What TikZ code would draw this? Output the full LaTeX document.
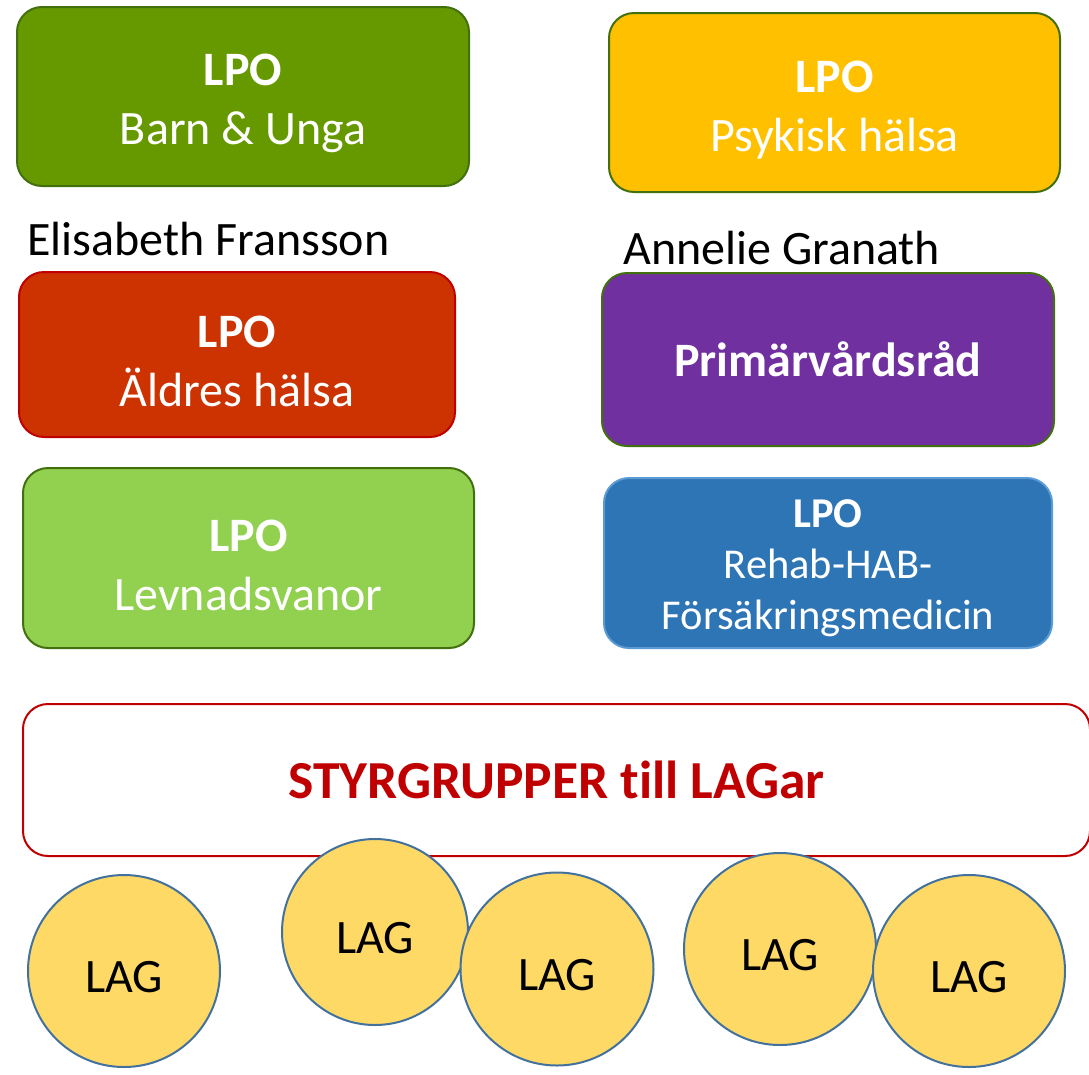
\documentclass[tikz,border=0pt]{standalone}
\usepackage{fontspec}
\setmainfont[Ligatures=NoCommon]{Carlito}

\definecolor{barngreen}{HTML}{669900}
\definecolor{edgegreen}{HTML}{43700F}
\definecolor{psykyellow}{HTML}{FFC000}
\definecolor{aldrered}{HTML}{CC3300}
\definecolor{edgered}{HTML}{C00000}
\definecolor{primpurple}{HTML}{7030A0}
\definecolor{levgreen}{HTML}{92D050}
\definecolor{rehabblue}{HTML}{2E75B6}
\definecolor{edgeblue}{HTML}{5B9BD5}
\definecolor{lagfill}{HTML}{FFD966}
\definecolor{lagedge}{HTML}{41719C}

\begin{document}
\begin{tikzpicture}[x=1pt,y=-1pt]
    \tikzstyle{lpo} = [draw, line width=2pt, rounded corners=25pt, text=white,
        align=center, inner sep=0pt, font=\fontsize{48}{59}\selectfont]
    \tikzstyle{ann} = [draw=none,fill=none,anchor=base west,inner sep=0pt,
        font=\fontsize{48}{59}\selectfont]
    \tikzstyle{lag} = [circle, draw=lagedge, fill=lagfill, line width=2pt,
        inner sep=0pt, text height=43pt, text depth=0pt,
        font=\fontsize{48}{59}\selectfont]

    \useasboundingbox (0,0) rectangle (1089,1074);

    \node[lpo, fill=barngreen, draw=edgegreen, minimum width=452pt, minimum height=179pt]
        (1) at (243,96.5) {\rule{0pt}{46pt}\textbf{LPO}\\Barn \& Unga};
    \node[lpo, fill=psykyellow, draw=edgegreen, minimum width=451pt, minimum height=179pt]
        (2) at (834.5,102.5) {\rule{0pt}{46pt}\textbf{LPO}\\Psykisk hälsa};
    \node[lpo, fill=aldrered, draw=edgered, minimum width=436pt, minimum height=165pt]
        (3) at (237,354.5) {\rule{0pt}{46pt}\textbf{LPO}\\Äldres hälsa};
    \node[lpo, fill=primpurple, draw=edgegreen, minimum width=452pt, minimum height=173pt]
        (4) at (828,359.5) {\textbf{Primärvårdsråd}};
    \node[lpo, fill=levgreen, draw=edgegreen, minimum width=451pt, minimum height=180pt]
        (5) at (248.5,558) {\rule{0pt}{46pt}\textbf{LPO}\\Levnadsvanor};
    \node[lpo, fill=rehabblue, draw=edgeblue, minimum width=448pt, minimum height=170pt,
        font=\fontsize{42.5}{51}\selectfont]
        (6) at (828,563) {\rule{0pt}{39pt}\textbf{LPO}\\Rehab-HAB-\\Försäkringsmedicin};

    \node[ann] (8) at (27,255) {Elisabeth Fransson};
    \node[ann] (9) at (623,264) {Annelie Granath};

    \node[lpo, fill=white, draw=edgered, text=edgered, minimum width=1067pt,
        minimum height=152pt, font=\fontsize{53.5}{64}\selectfont\bfseries]
        (7) at (556.5,780) {STYRGRUPPER till LAGar};

    \node[lag, minimum size=192pt] (10) at (124,971) {LAG};
    \node[lag, minimum size=186pt] (11) at (375,932) {LAG};
    \node[lag, minimum size=193pt] (12) at (557,969) {LAG};
    \node[lag, minimum size=192pt] (13) at (780,949) {LAG};
    \node[lag, minimum size=192pt] (14) at (969,971) {LAG};

\end{tikzpicture}
\end{document}
